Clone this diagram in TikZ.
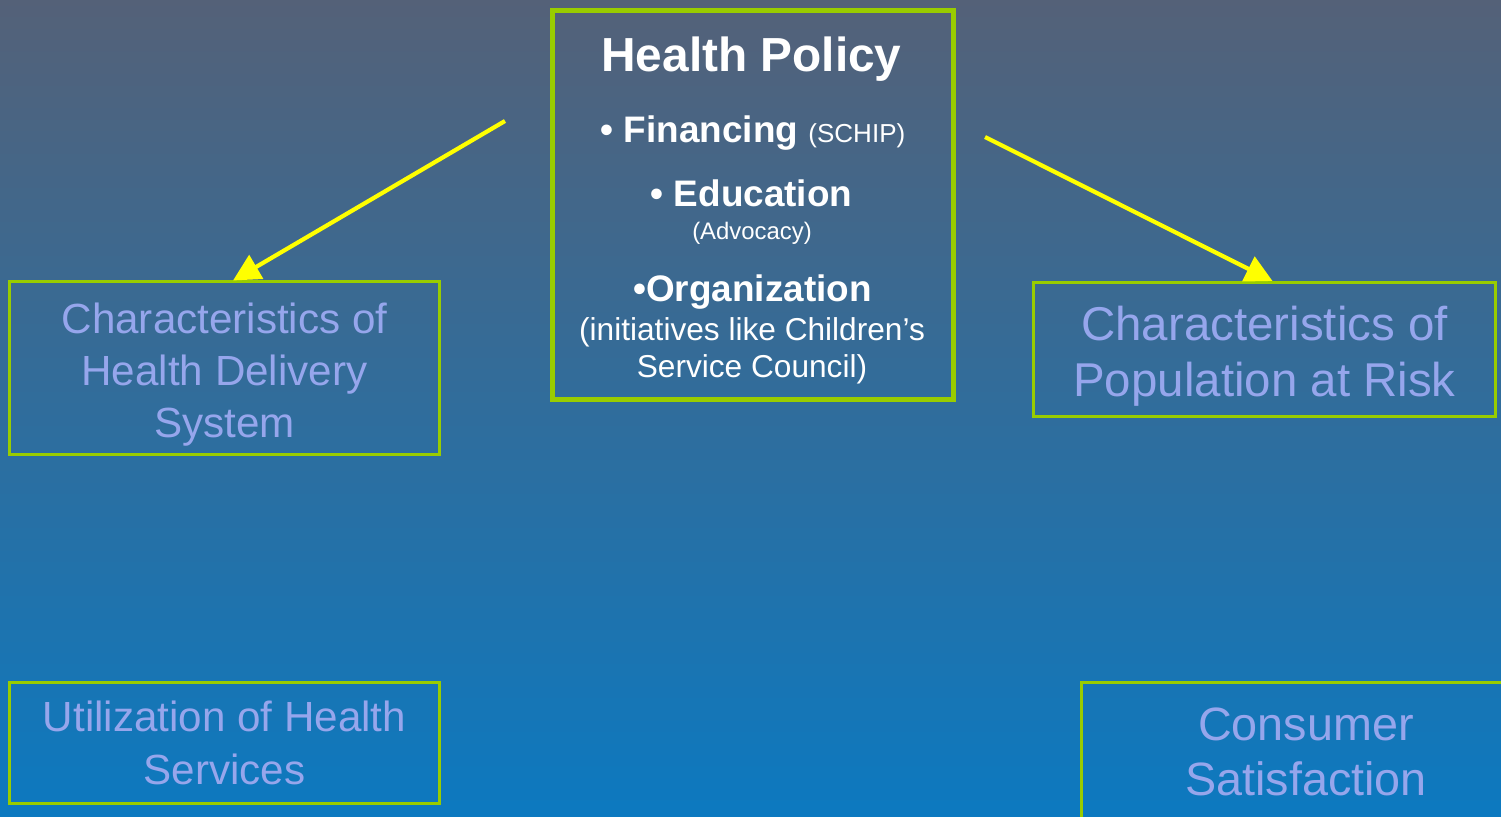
\documentclass[tikz,border=0pt]{standalone}
\usepackage{fontspec}
\setmainfont{Liberation Sans}
\usetikzlibrary{calc}
\usetikzlibrary{arrows.meta}

\definecolor{bgtop}{RGB}{84,97,120}
\definecolor{bgmid}{RGB}{64,116,164}
\definecolor{bgbot}{RGB}{12,121,192}
\definecolor{boxgreen}{RGB}{153,204,0}
\definecolor{lavtext}{RGB}{150,166,236}
\definecolor{arrowyellow}{RGB}{255,255,0}

\tikzset{
	sidebox/.style={draw=boxgreen, line width=0.3mm, inner sep=0pt},
	sidetext/.style={align=center, text=lavtext, inner sep=0pt},
	hptext/.style={anchor=base, text=white, inner sep=0pt},
	hparrow/.style={-{Triangle[length=2.7mm,width=2.7mm]}, draw=arrowyellow, line width=0.42mm},
}

\begin{document}
\begin{tikzpicture}[x=0.1mm,y=-0.1mm]
					% Slide background, one unit is one pixel
					\useasboundingbox (0,0) rectangle (1501,817);
					\clip (0,0) rectangle (1501,817);
					\shade[top color=bgtop, middle color=bgmid, bottom color=bgbot] (0,0) rectangle (1501,817);

					% Central box and its lines
					\node[draw=boxgreen, line width=0.5mm, minimum width=40.1mm, minimum height=38.9mm] (hpol) at (753,205) {};
					\coordinate (O) at (hpol.center);
					\node[hptext, font=\fontsize{13.6}{16}\selectfont\bfseries] (hptitle) at ($(O)+(-1.5,-133)$) {Health Policy};
					\node[hptext, font=\fontsize{10.5}{12}\selectfont\bfseries] (hpfin) at ($(O)+(0,-62)$) {• Financing {\fontsize{7.4}{9}\selectfont\mdseries (SCHIP)}};
					\node[hptext, font=\fontsize{10.5}{12}\selectfont\bfseries] (hpedu) at ($(O)+(-1.5,2)$) {• Education};
					\node[hptext, font=\fontsize{6.8}{8}\selectfont] (hpadv) at ($(O)+(-1,35)$) {(Advocacy)};
					\node[hptext, font=\fontsize{10.5}{12}\selectfont\bfseries] (hporg) at ($(O)+(-0.5,97)$) {•Organization};
					\node[hptext, font=\fontsize{9}{11}\selectfont] (hpini) at ($(O)+(-1,136)$) {(initiatives like Children’s};
					\node[hptext, font=\fontsize{9}{11}\selectfont] (hpsvc) at ($(O)+(-1,173)$) {Service Council)};

					% Arrows come out of the free space beside the central box
					\coordinate (la) at (505,121);
					\coordinate (ra) at (985,137);

					% The four outer boxes, text set a little low as on the slide
					\node[sidebox, minimum width=43mm, minimum height=17.3mm] (hdel) at (224.5,368.5) {};
					\node[sidetext, font=\fontsize{12}{14.8}\selectfont] (hdeltx) at ($(hdel.center)+(0,6)$) {Characteristics of\\Health Delivery\\System};
					\node[sidebox, minimum width=46.2mm, minimum height=13.4mm] (popr) at (1264.5,349.5) {};
					\node[sidetext, font=\fontsize{13.5}{16}\selectfont] (poprtx) at ($(popr.center)+(0,7)$) {Characteristics of\\Population at Risk};
					\node[sidebox, minimum width=43mm, minimum height=12.1mm] (util) at (224.5,743) {};
					\node[sidetext, font=\fontsize{12}{15}\selectfont] (utiltx) at (util.center) {Utilization of Health\\Services};
					\node[sidebox, minimum width=44.9mm, minimum height=13.9mm] (cons) at (1306,752) {};
					\node[sidetext, font=\fontsize{13.3}{15.7}\selectfont] (constx) at (cons.center) {Consumer\\Satisfaction};

					\draw[hparrow] (la) -- ($(hdel.north)+(8.5,0)$);
					\draw[hparrow] (ra) -- ($(popr.north)+(8,0)$);
				\end{tikzpicture}
\end{document}
